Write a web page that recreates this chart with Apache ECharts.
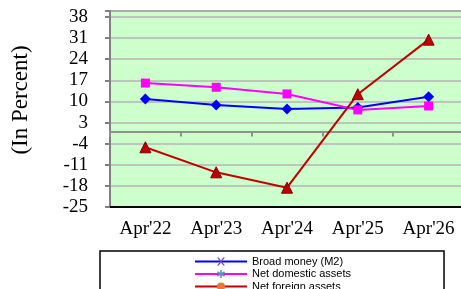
<!DOCTYPE html>
<html>
<head>
<meta charset="utf-8">
<script src="https://cdn.jsdelivr.net/npm/echarts@6/dist/echarts.min.js"></script>
<style>
  html, body { margin: 0; padding: 0; background: #fff; }
  #chart { width: 461px; height: 289px; }
</style>
</head>
<body>
<div id="chart"></div>
<script>
const categories = ["Apr'22", "Apr'23", "Apr'24", "Apr'25", "Apr'26"];
const broadMoney = [10.8, 8.8, 7.5, 8.0, 11.6];
const netDomestic = [16.1, 14.7, 12.5, 7.2, 8.5];
const netForeign = [-5.2, -13.5, -18.6, 12.4, 30.5];

const chart = echarts.init(document.getElementById('chart'));
const serif = 'Liberation Serif, Times New Roman, serif';

// legend markers differ from plot markers (as in the source)
const xMark = 'path://M0,0L2,0L5,3.5L8,0L10,0L6,5L10,10L8,10L5,6.5L2,10L0,10L4,5Z';
const starMark = 'path://M4,0L6,0L6,3.5L9,1.5L10,3.5L7,5L10,6.5L9,8.5L6,6.5L6,10L4,10L4,6.5L1,8.5L0,6.5L3,5L0,3.5L1,1.5L4,3.5Z';
const withSymbol = (arr, sym) => arr.map(v => ({ value: v, symbol: sym }));

const option = {
  animation: false,
  grid: {
    left: 110, right: -3, top: 11, bottom: 82,
    outerBoundsMode: 'none', containLabel: false,
    show: true, backgroundColor: '#ccffcc', borderColor: '#333', borderWidth: 1
  },
  legend: {
    orient: 'horizontal',
    left: 100, top: 251,
    width: 165,
    padding: [5, 93, 6, 94],
    borderColor: '#000', borderWidth: 1.5,
    itemWidth: 52, itemHeight: 10, itemGap: 1.5,
    textStyle: { fontFamily: 'Liberation Sans, Arial, sans-serif', fontSize: 11, lineHeight: 10, color: '#000' },
    data: [
      { name: 'Broad money (M2)', itemStyle: { color: '#7a4fa0', borderWidth: 0 } },
      { name: 'Net domestic assets', itemStyle: { color: '#4a9ab8', borderWidth: 0 } },
      { name: 'Net foreign assets', itemStyle: { color: '#e07b39', borderWidth: 0 } }
    ]
  },
  xAxis: [
    {
      type: 'category', data: categories, boundaryGap: true,
      axisLine: { onZero: true, lineStyle: { color: '#909090', width: 2 } },
      axisTick: { show: true, inside: false, length: 5, lineStyle: { color: '#909090', width: 2 } },
      axisLabel: { show: false },
      splitLine: { show: false }
    },
    {
      type: 'category', data: categories, position: 'bottom',
      axisLine: { onZero: false, lineStyle: { color: '#000', width: 2 } },
      axisTick: { show: false },
      axisLabel: { margin: 13, fontFamily: serif, fontSize: 19, color: '#000' }
    }
  ],
  yAxis: {
    type: 'value', min: -25, max: 40, interval: 7,
    name: '(In Percent)', nameLocation: 'middle', nameGap: 78,
    nameTextStyle: { fontFamily: serif, fontSize: 23, color: '#000', padding: [0, 0, 0, 18] },
    axisLine: { show: true, lineStyle: { color: '#808080', width: 2 } },
    axisTick: { show: true, length: 5, lineStyle: { color: '#808080', width: 2 } },
    axisLabel: {
      margin: 22, fontFamily: serif, fontSize: 19, color: '#000',
      formatter: v => (v > 39 ? '' : v)
    },
    splitLine: { show: true, lineStyle: { color: '#b4b4b4', width: 1.5 } }
  },
  series: [
    {
      name: 'Broad money (M2)', type: 'line', data: withSymbol(broadMoney, 'diamond'),
      symbol: xMark, symbolSize: 11,
      lineStyle: { color: '#0000ff', width: 2 },
      itemStyle: { color: '#0000ff' }
    },
    {
      name: 'Net domestic assets', type: 'line', data: withSymbol(netDomestic, 'rect'),
      symbol: starMark, symbolSize: 9,
      lineStyle: { color: '#ff00ff', width: 2 },
      itemStyle: { color: '#ff00ff' }
    },
    {
      name: 'Net foreign assets', type: 'line', data: withSymbol(netForeign, 'triangle'),
      symbol: 'circle', symbolSize: 11,
      lineStyle: { color: '#c00000', width: 2 },
      itemStyle: { color: '#c00000', borderColor: '#800000', borderWidth: 1 }
    }
  ]
};

chart.setOption(option);
</script>
</body>
</html>
